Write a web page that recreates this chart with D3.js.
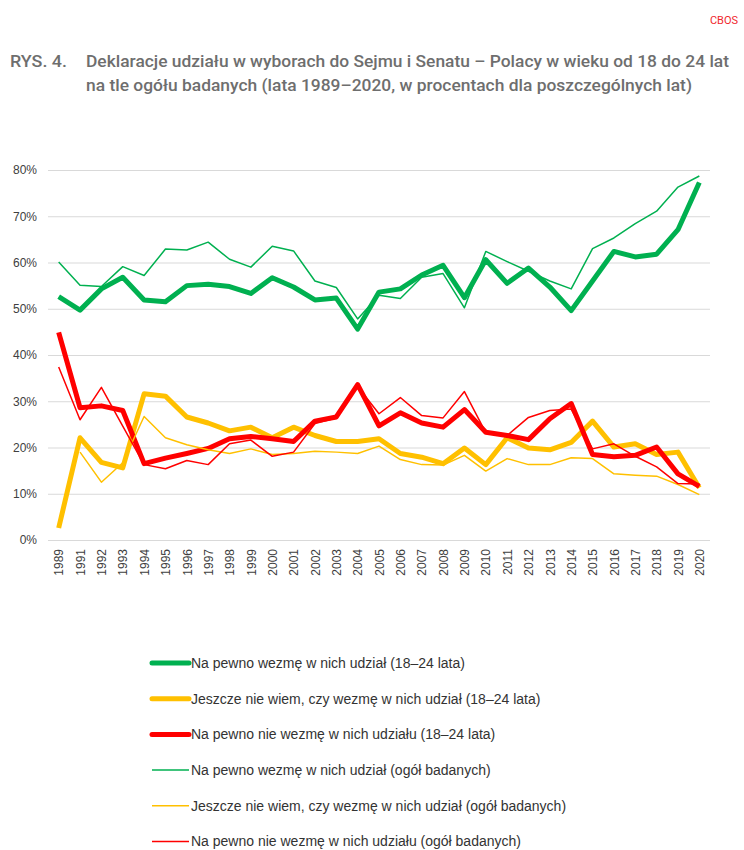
<!DOCTYPE html>
<html>
  <head>
    <title>Deklaracje udziału w wyborach</title>
    <meta charset="utf-8" />
    <style>
      body { margin: 0; background: #fff; }
      svg { display: block; }
    </style>
  </head>
  <body>
    <div id="plot"></div>

    <script src="https://d3js.org/d3.v7.min.js"></script>
    <script>
      // categories (note: no 1990)
      const years = ["1989", "1991", "1992", "1993", "1994", "1995", "1996", "1997", "1998", "1999",
        "2000", "2001", "2002", "2003", "2004", "2005", "2006", "2007", "2008", "2009", "2010",
        "2011", "2012", "2013", "2014", "2015", "2016", "2017", "2018", "2019", "2020"];

      const yTicks = [0, 10, 20, 30, 40, 50, 60, 70, 80];

      // 18-24 year olds
      const green18 = [52.6, 49.7, 54.3, 56.8, 51.9, 51.5, 55.0, 55.3, 54.8, 53.3,
        56.7, 54.7, 51.9, 52.3, 45.6, 53.6, 54.3, 57.3, 59.4, 52.4, 60.6,
        55.5, 58.8, 54.7, 49.6, 56.0, 62.4, 61.2, 61.8, 67.1, 77.3];
      const yellow18 = [2.6, 22.1, 16.8, 15.6, 31.6, 31.1, 26.6, 25.3, 23.6, 24.4,
        22.1, 24.4, 22.6, 21.3, 21.3, 21.9, 18.7, 17.9, 16.5, 19.9, 16.3,
        22.1, 19.9, 19.5, 21.1, 25.7, 20.1, 20.8, 18.5, 19.0, 11.3];
      const red18 = [44.9, 28.6, 29.0, 28.0, 16.5, 17.7, 18.7, 19.8, 21.9, 22.4,
        21.9, 21.3, 25.7, 26.6, 33.6, 24.7, 27.5, 25.3, 24.4, 28.2, 23.3,
        22.6, 21.7, 26.2, 29.5, 18.5, 18.0, 18.3, 20.1, 14.3, 11.6];

      // all respondents
      const greenAll = [60.1, 55.1, 54.8, 59.1, 57.2, 62.9, 62.7, 64.4, 60.7, 59.0,
        63.5, 62.5, 56.0, 54.6, 47.8, 52.9, 52.2, 56.8, 57.6, 50.2, 62.4,
        60.2, 58.1, 56.0, 54.3, 63.0, 65.3, 68.4, 71.1, 76.3, 78.7];
      const yellowAll = [null, 19.0, 12.5, 16.7, 26.7, 22.1, 20.6, 19.5, 18.7, 19.7,
        18.5, 18.7, 19.2, 19.0, 18.7, 20.3, 17.4, 16.3, 16.2, 18.3, 14.9,
        17.6, 16.3, 16.3, 17.8, 17.6, 14.3, 14.0, 13.8, 12.0, 9.8];
      const redAll = [37.4, 26.0, 33.0, 24.6, 16.3, 15.4, 17.2, 16.3, 20.8, 21.6,
        18.1, 19.0, 25.2, 26.4, 33.2, 27.3, 30.8, 26.9, 26.4, 32.1, 23.2,
        22.6, 26.5, 28.0, 28.3, 19.7, 20.8, 18.1, 15.8, 12.2, 12.1];

      const seriesNames = [
        "Na pewno wezmę w nich udział (18–24 lata)",
        "Jeszcze nie wiem, czy wezmę w nich udział (18–24 lata)",
        "Na pewno nie wezmę w nich udziału (18–24 lata)",
        "Na pewno wezmę w nich udział (ogół badanych)",
        "Jeszcze nie wiem, czy wezmę w nich udział (ogół badanych)",
        "Na pewno nie wezmę w nich udziału (ogół badanych)"
      ];

      const GREEN = "#00b050", YELLOW = "#ffc000", RED = "#ff0000";
      const series = [
        { name: seriesNames[0], values: green18, color: GREEN, w: 5 },
        { name: seriesNames[1], values: yellow18, color: YELLOW, w: 5 },
        { name: seriesNames[2], values: red18, color: RED, w: 5 },
        { name: seriesNames[3], values: greenAll, color: GREEN, w: 1.5 },
        { name: seriesNames[4], values: yellowAll, color: YELLOW, w: 1.5 },
        { name: seriesNames[5], values: redAll, color: RED, w: 1.5 }
      ];

      const width = 744, height = 850;
      const plot = { left: 48, right: 710, top: 170, bottom: 540 };

      const svg = d3.select("#plot")
        .append("svg")
        .attr("width", width)
        .attr("height", height);

      // header
      svg.append("text")
        .attr("x", 738).attr("y", 24)
        .attr("text-anchor", "end")
        .attr("font-family", "Roboto, sans-serif")
        .attr("font-size", 11)
        .attr("fill", "#f0282d")
        .text("CBOS");

      const title = svg.append("g")
        .attr("font-family", "Roboto, sans-serif")
        .attr("font-weight", 500)
        .attr("font-size", 16.5)
        .attr("fill", "#6e6e6e");
      title.append("text").attr("x", 10).attr("y", 67)
        .attr("textLength", 57).attr("lengthAdjust", "spacingAndGlyphs")
        .text("RYS. 4.");
      title.append("text").attr("x", 86).attr("y", 67)
        .attr("textLength", 643).attr("lengthAdjust", "spacingAndGlyphs")
        .text("Deklaracje udziału w wyborach do Sejmu i Senatu – Polacy w wieku od 18 do 24 lat");
      title.append("text").attr("x", 86).attr("y", 91)
        .attr("textLength", 606).attr("lengthAdjust", "spacingAndGlyphs")
        .text("na tle ogółu badanych (lata 1989–2020, w procentach dla poszczególnych lat)");

      // scales
      const x = d3.scalePoint()
        .domain(years)
        .range([plot.left, plot.right])
        .padding(0.5);

      const y = d3.scaleLinear()
        .domain([0, 80])
        .range([plot.bottom, plot.top]);

      // y axis with gridlines
      const yAxis = svg.append("g")
        .attr("transform", `translate(${plot.left},0)`)
        .call(d3.axisLeft(y)
          .tickValues(yTicks)
          .tickFormat(d => d + "%")
          .tickSize(-(plot.right - plot.left))
          .tickPadding(11));
      yAxis.select(".domain").remove();
      yAxis.selectAll(".tick line").attr("stroke", "#d9d9d9").attr("stroke-width", 1.2);
      yAxis.selectAll(".tick text")
        .attr("font-family", "'Liberation Sans', Arial, sans-serif")
        .attr("font-size", 12)
        .attr("fill", "#404040");

      // x axis
      const xAxis = svg.append("g")
        .attr("transform", `translate(0,${plot.bottom})`)
        .call(d3.axisBottom(x).tickSize(0));
      xAxis.select(".domain").remove();
      xAxis.selectAll(".tick text")
        .attr("font-family", "'Liberation Sans', Arial, sans-serif")
        .attr("font-size", 12)
        .attr("fill", "#404040")
        .attr("transform", "rotate(-90)")
        .attr("text-anchor", "end")
        .attr("x", -9)
        .attr("y", 0)
        .attr("dy", "0.35em");

      // lines
      const line = d3.line()
        .defined(d => d.v != null)
        .x(d => x(d.year))
        .y(d => y(d.v));

      svg.append("g")
        .selectAll("path")
        .data(series)
        .join("path")
        .attr("fill", "none")
        .attr("stroke", d => d.color)
        .attr("stroke-width", d => d.w)
        .attr("stroke-linejoin", "round")
        .attr("d", d => line(d.values.map((v, i) => ({ year: years[i], v: v }))));

      // legend
      const legend = svg.append("g")
        .selectAll("g")
        .data(series)
        .join("g")
        .attr("transform", (d, i) => `translate(152,${663 + i * 35.7})`);
      legend.append("line")
        .attr("x1", 0).attr("x2", 37)
        .attr("stroke", d => d.color)
        .attr("stroke-width", d => d.w)
        .attr("stroke-linecap", d => d.w > 2 ? "round" : "butt");
      legend.append("text")
        .attr("x", 39)
        .attr("dy", "0.35em")
        .attr("font-family", "'Liberation Sans', Arial, sans-serif")
        .attr("font-size", 14)
        .attr("fill", "#333")
        .text(d => d.name);
    </script>
  </body>
</html>
